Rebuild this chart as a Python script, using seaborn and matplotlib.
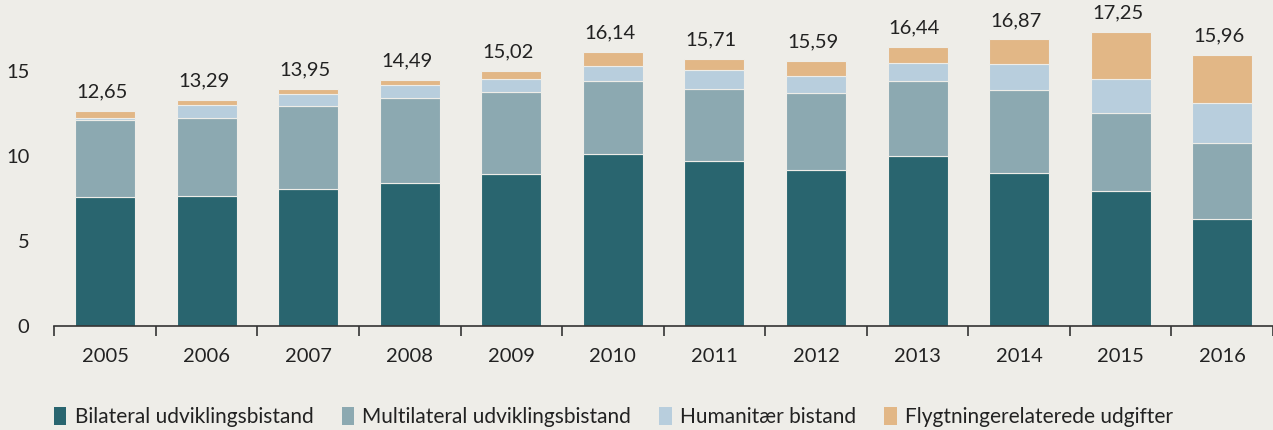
import numpy as np
import pandas as pd
import seaborn as sns
from matplotlib import pyplot as plt
from matplotlib.patches import Patch

years = ["2005", "2006", "2007", "2008", "2009", "2010",
         "2011", "2012", "2013", "2014", "2015", "2016"]
bilateral = [7.58, 7.66, 8.03, 8.42, 8.95, 10.14, 9.73, 9.20, 9.98, 8.98, 7.93, 6.27]
multilateral = [4.51, 4.59, 4.94, 5.02, 4.84, 4.29, 4.22, 4.49, 4.43, 4.91, 4.59, 4.51]
humanitarian = [0.12, 0.74, 0.68, 0.76, 0.74, 0.84, 1.09, 1.02, 1.08, 1.50, 2.03, 2.33]
refugee = [0.44, 0.30, 0.30, 0.29, 0.49, 0.87, 0.67, 0.88, 0.95, 1.48, 2.74, 2.85]
totals = [12.65, 13.29, 13.95, 14.49, 15.02, 16.14, 15.71, 15.59, 16.44, 16.87, 17.25, 15.96]

series_names = ["Bilateral udviklingsbistand", "Multilateral udviklingsbistand",
                "Humanitær bistand", "Flygtningerelaterede udgifter"]
series_values = [bilateral, multilateral, humanitarian, refugee]
colors = ["#29656f", "#8ca9b1", "#b8cedd", "#e2b786"]

BG = "#eeede8"

sns.set_theme(style="white")
plt.rcParams["font.family"] = ["Lato", "DejaVu Sans"]

fig = plt.figure(figsize=(12.73, 4.30), dpi=100, facecolor=BG)
ax = fig.add_axes([54.3 / 1273, 1 - 326 / 430, 1 - 54.3 / 1273, (326 - 20) / 430])
ax.set_facecolor(BG)

bottom = np.zeros(len(years))
for name, vals, col in zip(series_names, series_values, colors):
    df = pd.DataFrame({"year": years, "value": vals})
    sns.barplot(data=df, x="year", y="value", order=years, color=col,
                width=0.59, bottom=bottom, ax=ax, saturation=1,
                linewidth=0.8, edgecolor=BG)
    bottom = bottom + np.array(vals)

for i, t in enumerate(totals):
    ax.text(i - 0.03, bottom[i] + 0.6, f"{t:.2f}".replace(".", ","),
            ha="center", va="bottom", fontsize=14.5, color="#222222")

ax.set_ylim(0, 18)
ax.set_xlim(-0.5, 11.5 - 4 / 101.9)
ax.set_yticks([0, 5, 10, 15])
ax.set_xlabel("")
ax.set_ylabel("")
for s in ["top", "right", "left"]:
    ax.spines[s].set_visible(False)
ax.spines["bottom"].set_color("#333333")
ax.spines["bottom"].set_linewidth(1.2)

ax.set_xticks(np.arange(-0.5, 12, 1.0), minor=True)
ax.tick_params(axis="x", which="minor", length=7, width=1.2, color="#333333", bottom=True)
ax.tick_params(axis="x", which="major", length=0, pad=16, labelsize=14.5, labelcolor="#222222")
ax.tick_params(axis="y", length=0, pad=18, labelsize=14.5, labelcolor="#222222")

handles = [Patch(facecolor=c, edgecolor="none", label=n) for n, c in zip(series_names, colors)]
fig.legend(handles=handles, loc="center", bbox_to_anchor=(0.482, 1 - 417 / 430), ncol=4,
           frameon=False, fontsize=15, handlelength=0.6, handleheight=1.0,
           handletextpad=0.4, columnspacing=1.35, labelcolor="#222222")

fig.savefig("out.png", dpi=100, facecolor=BG)
